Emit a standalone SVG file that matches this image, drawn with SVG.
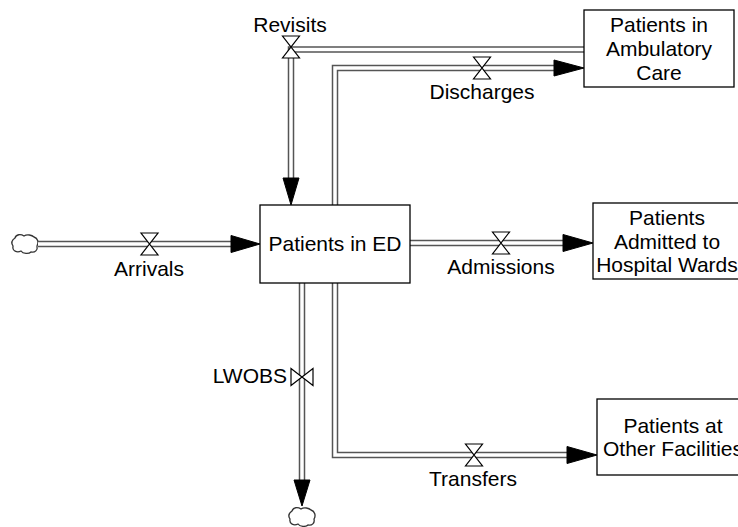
<svg xmlns="http://www.w3.org/2000/svg" width="738" height="527" viewBox="0 0 738 527">
<defs>
<style>
.box{fill:#fff;stroke:#000;stroke-width:1.3}
.txt{font-family:"Liberation Sans",Arial,sans-serif;font-size:21px;fill:#000;text-anchor:middle}
.pipeo{fill:none;stroke:#555;stroke-width:6.5;stroke-linejoin:miter}
.pipei{fill:none;stroke:#fff;stroke-width:3.5;stroke-linejoin:miter}
.head{fill:#000;stroke:#000;stroke-width:1}
.valve{fill:#fff;stroke:#000;stroke-width:1.2}
.cloud{fill:#fff;stroke:#333;stroke-width:1.3}
</style>
<path id="valveH" d="M -8.5 -11 L 8.5 -11 L -8.5 11 L 8.5 11 Z"/>
<path id="cloudShape" d="M -10,-6 C -9,-10 -4,-10 -1,-8 C 2,-10 7,-9 9,-7 C 13,-6 14,-1 12,2 C 13,6 10,9 6,8 C 4,10 -2,10 -4,7 C -8,9 -13,7 -12,2 C -14,-1 -13,-4 -10,-6 Z"/>
</defs>
<rect width="738" height="527" fill="#fff"/>

<g id="connectors">
  <!-- Revisits -->
  <path class="pipeo" d="M 584 49.5 H 291 V 180"/>
  <path class="pipei" d="M 584 49.5 H 291 V 180"/>
  <path class="head" d="M 283 178 L 299 178 L 291 205 Z"/>
  <!-- Discharges -->
  <path class="pipeo" d="M 335 205 V 68 H 556"/>
  <path class="pipei" d="M 335 205 V 68 H 556"/>
  <path class="head" d="M 554 60 L 584 68 L 554 76 Z"/>
  <!-- Arrivals -->
  <use href="#cloudShape" class="cloud" x="25" y="244"/>
  <path class="pipeo" d="M 38 244 H 233"/>
  <path class="pipei" d="M 38 244 H 233"/>
  <path class="head" d="M 231 235.5 L 260 244 L 231 252.5 Z"/>
  <!-- Admissions -->
  <path class="pipeo" d="M 410 243 H 565"/>
  <path class="pipei" d="M 410 243 H 565"/>
  <path class="head" d="M 563 234.5 L 593 243 L 563 251.5 Z"/>
  <!-- LWOBS -->
  <path class="pipeo" d="M 302 283 V 482"/>
  <path class="pipei" d="M 302 283 V 482"/>
  <path class="head" d="M 294 480 L 310 480 L 302 506 Z"/>
  <use href="#cloudShape" class="cloud" x="302" y="517"/>
  <!-- Transfers -->
  <path class="pipeo" d="M 335 283 V 455 H 569"/>
  <path class="pipei" d="M 335 283 V 455 H 569"/>
  <path class="head" d="M 567 446.5 L 597 455 L 567 463.5 Z"/>
</g>

<g id="flow-revisits">
  <use href="#valveH" class="valve" x="291" y="47"/>
  <text class="txt" x="290" y="32">Revisits</text>
</g>
<g id="flow-discharges">
  <use href="#valveH" class="valve" x="482" y="68"/>
  <text class="txt" x="482" y="99">Discharges</text>
</g>
<g id="flow-arrivals">
  <use href="#valveH" class="valve" x="149.5" y="244"/>
  <text class="txt" x="149" y="276">Arrivals</text>
</g>
<g id="flow-admissions">
  <use href="#valveH" class="valve" x="501" y="243"/>
  <text class="txt" x="501" y="274">Admissions</text>
</g>
<g id="flow-lwobs">
  <use href="#valveH" class="valve" transform="translate(302 377) rotate(90)"/>
  <text class="txt" x="287" y="383" style="text-anchor:end">LWOBS</text>
</g>
<g id="flow-transfers">
  <use href="#valveH" class="valve" x="474" y="455"/>
  <text class="txt" x="473" y="486">Transfers</text>
</g>

<g id="stock-ed">
  <rect class="box" x="260" y="205" width="150" height="78"/>
  <text class="txt" x="335" y="251">Patients in ED</text>
</g>
<g id="stock-ambulatory">
  <rect class="box" x="584" y="10" width="150" height="77"/>
  <text class="txt" x="659" y="32">Patients in</text>
  <text class="txt" x="659" y="56">Ambulatory</text>
  <text class="txt" x="659" y="80">Care</text>
</g>
<g id="stock-hospital">
  <rect class="box" x="593" y="203" width="150" height="76"/>
  <text class="txt" x="667" y="225">Patients</text>
  <text class="txt" x="667" y="249">Admitted to</text>
  <text class="txt" x="667" y="272">Hospital Wards</text>
</g>
<g id="stock-other">
  <rect class="box" x="597" y="399" width="152" height="76"/>
  <text class="txt" x="673" y="433">Patients at</text>
  <text class="txt" x="673" y="456">Other Facilities</text>
</g>
</svg>
